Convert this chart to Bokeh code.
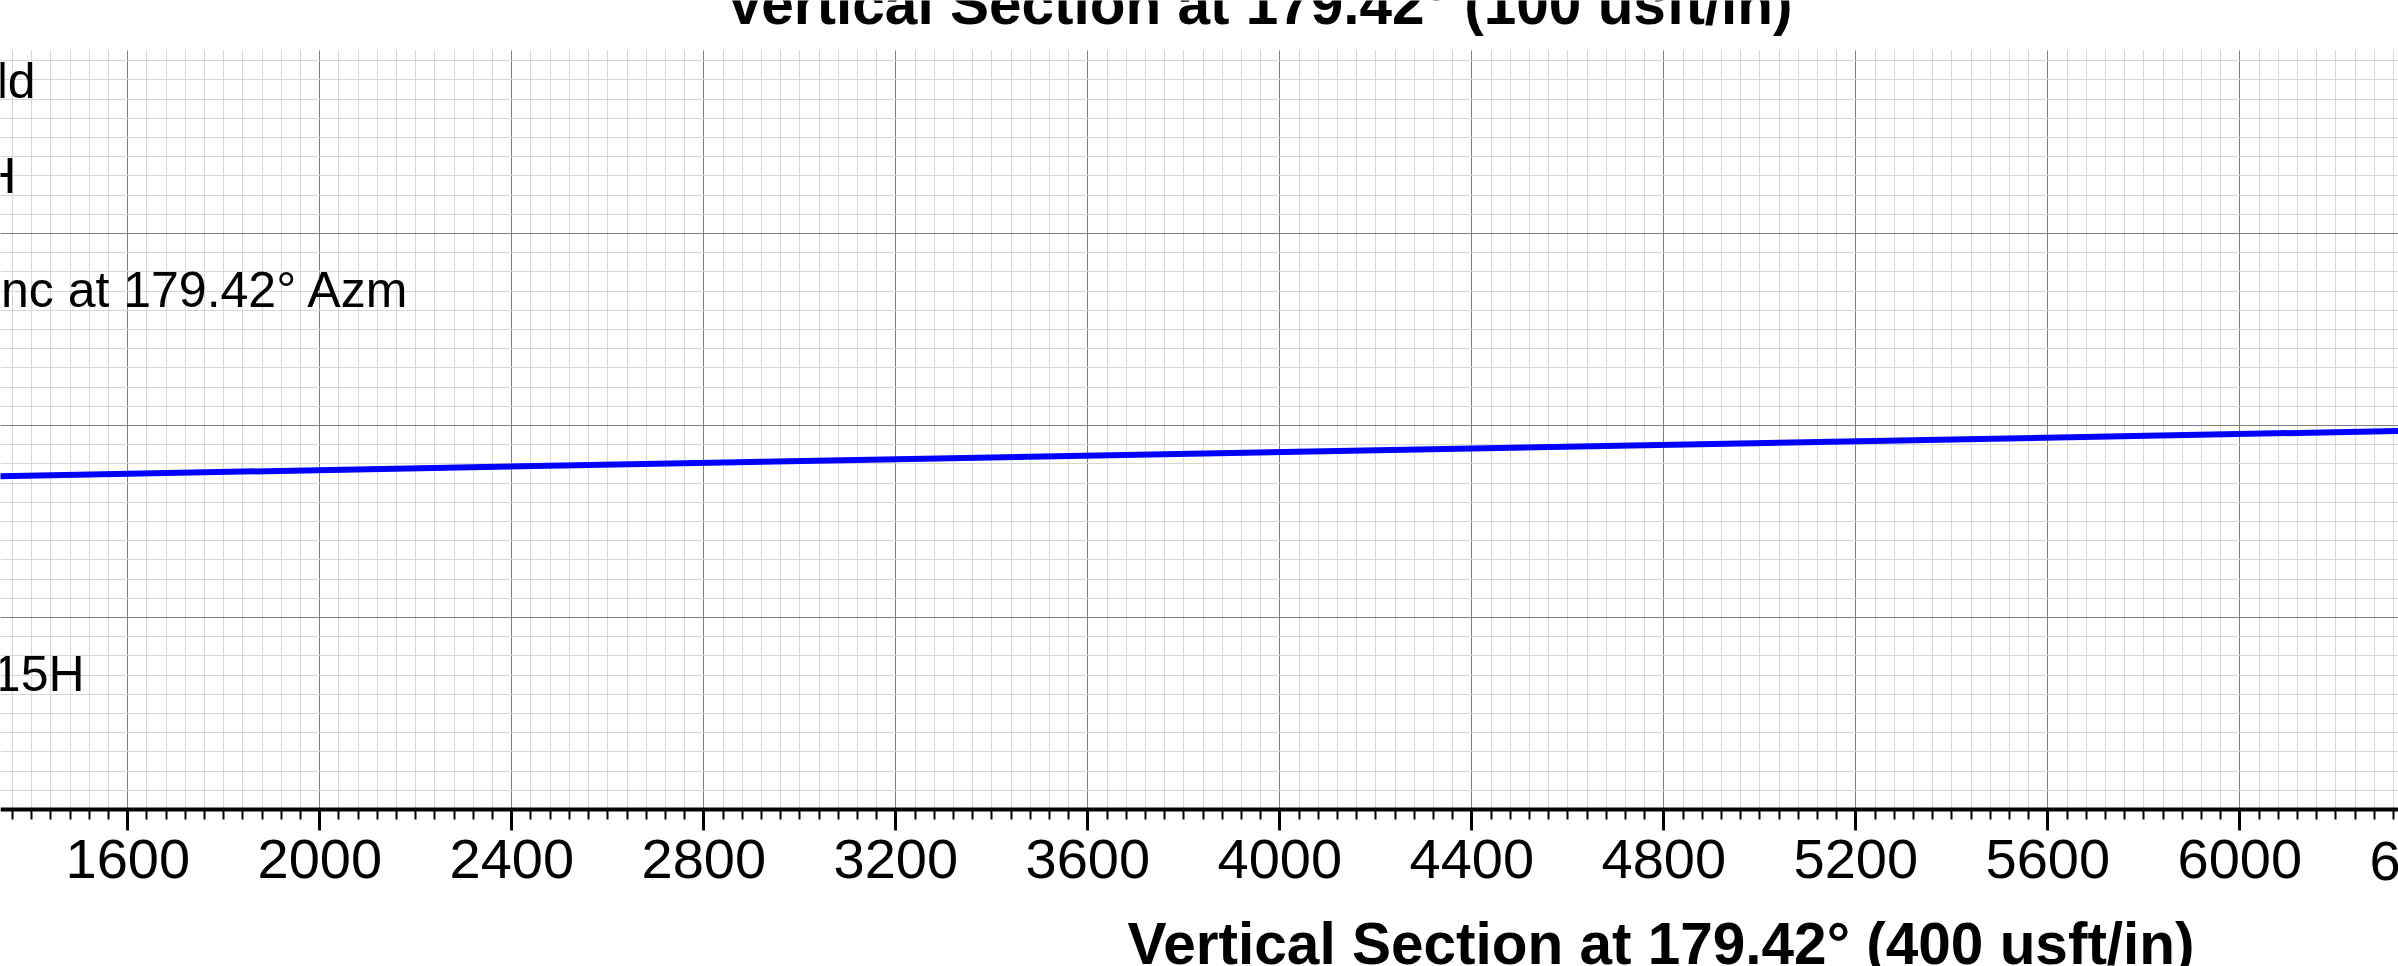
from bokeh.plotting import figure
from bokeh.models import Range1d, SingleIntervalTicker, ColumnDataSource
from bokeh.core.properties import value
from bokeh.embed import file_html
from bokeh.resources import INLINE

# ---- data ----
vs = [1300, 6400]                 # vertical section (usft)
tvd = [9706.2, 9610.2]            # true vertical depth (usft)

label_text = ["ld", "H", "nc at 179.42\u00b0 Azm", "15H"]
label_x = [1408, 1368, 2188, 1510]
label_y = [8882.9, 9080.8, 9318.3, 10118.3]

top_title = "Vertical Section at 179.42\u00b0 (100 usft/in)"
x_title = "Vertical Section at 179.42\u00b0 (400 usft/in)"
title_x = [2845.2, 3682.7]
title_y = [8721.5, 10679.8]

axis_depth = 10400                # TVD where the section axis is drawn
grid_top = 8818.75                # TVD where the grid begins
extra_tick = [6400]
extra_tick_y = [10507.9]

FONT = "Liberation Sans"
X0, X1 = 1334.8, 6330.6
Y_BOTTOM, Y_TOP = 10727.1, 8714.6

p = figure(width=2398, height=966, output_backend="svg", toolbar_location=None,
           x_range=Range1d(X0, X1), y_range=Range1d(Y_BOTTOM, Y_TOP),
           y_axis_location=None, min_border_left=0, min_border_right=0,
           min_border_top=0, min_border_bottom=0)
p.outline_line_color = None
p.background_fill_color = "white"
p.border_fill_color = "white"

xt = SingleIntervalTicker(interval=400, num_minor_ticks=10)
yt = SingleIntervalTicker(interval=400, num_minor_ticks=10)
p.xgrid.ticker = xt
p.ygrid.ticker = yt
for g in (p.xgrid[0], p.ygrid[0]):
    g.grid_line_color = "#7f7f7f"
    g.grid_line_width = 1
    g.minor_grid_line_color = "#d6d6d6"
    g.minor_grid_line_width = 1

# white margins outside the gridded area
p.quad(left=[X0, X0], right=[X1, X1], top=[Y_TOP, axis_depth], bottom=[grid_top, Y_BOTTOM],
       fill_color="white", line_color=None)

ax = p.xaxis[0]
ax.fixed_location = axis_depth
ax.ticker = xt
ax.axis_line_width = 4
ax.axis_line_color = "black"
ax.major_tick_out = 21
ax.major_tick_in = 0
ax.major_tick_line_width = 3
ax.minor_tick_out = 10
ax.minor_tick_in = 0
ax.minor_tick_line_width = 2
ax.major_label_text_font = FONT
ax.major_label_text_font_size = "56px"
ax.major_label_text_color = "black"
ax.major_label_standoff = 10

p.line(vs, tvd, line_color="#0000ff", line_width=6)

src = ColumnDataSource(dict(x=label_x, y=label_y, text=label_text))
p.text(x="x", y="y", text="text", source=src, text_font=value(FONT),
       text_font_size="50px", text_align="right", text_baseline="alphabetic",
       text_color="black")

tsrc = ColumnDataSource(dict(x=title_x, y=title_y, text=[top_title, x_title]))
p.text(x="x", y="y", text="text", source=tsrc, text_font=value(FONT),
       text_font_size="58.5px", text_font_style="bold", text_align="left",
       text_baseline="alphabetic", text_color="black")

esrc = ColumnDataSource(dict(x=extra_tick, y=extra_tick_y, text=[str(t) for t in extra_tick]))
p.text(x="x", y="y", text="text", source=esrc, text_font=value(FONT),
       text_font_size="56px", text_align="center", text_baseline="alphabetic",
       text_color="black")

open("out.html", "w").write(file_html(p, INLINE))
